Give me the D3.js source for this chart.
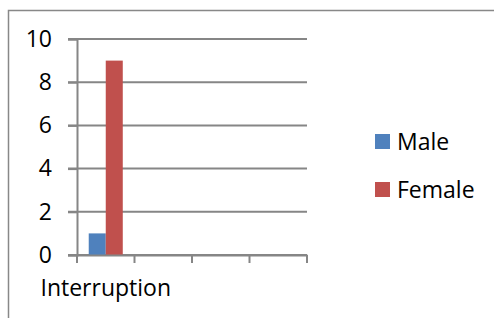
<!DOCTYPE html>
<html>
<head>
<meta charset="utf-8">
<script src="https://cdn.jsdelivr.net/npm/d3@7"></script>
<style>
  body { margin: 0; background: #fff; }
  text { font-family: "Open Sans", Lato, sans-serif; fill: #000; }
</style>
</head>
<body>
<div id="chart"></div>
<script>
// chart data
var categories = ["Interruption", "", "", ""];
var seriesNames = ["Male", "Female"];
var maleValues = [1, null, null, null];
var femaleValues = [9, null, null, null];
var yTicks = [0, 2, 4, 6, 8, 10];
var colors = ["#4F81BD", "#C0504D"];

var svgWidth = 494, svgHeight = 318;
var margin = {top: 39, right: 187, bottom: 63, left: 77};
var width = svgWidth - margin.left - margin.right;
var height = svgHeight - margin.top - margin.bottom;
var fontSize = "23px";

var svg = d3.select("#chart").append("svg")
    .attr("width", svgWidth)
    .attr("height", svgHeight);

// outer chart frame (top and left edges show)
svg.append("rect")
    .attr("x", 8.5).attr("y", 10.5)
    .attr("width", 600).attr("height", 400)
    .attr("fill", "none")
    .attr("stroke", "#888")
    .attr("stroke-width", 1.5);

var chartGroup = svg.append("g")
    .attr("transform", `translate(${margin.left}, ${margin.top})`);

var xScale = d3.scaleBand().domain(d3.range(categories.length)).range([0, width]);
var yScale = d3.scaleLinear().domain([0, 10]).range([height, 0]);

var barW = xScale.bandwidth() * 0.296;
var xInner = d3.scaleBand().domain(seriesNames).range([0, barW * 2]);

// gridlines
chartGroup.append("g").selectAll("line")
  .data(yTicks)
  .enter()
  .append("line")
  .attr("x1", -9).attr("x2", width)
  .attr("y1", d => yScale(d)).attr("y2", d => yScale(d))
  .attr("stroke", "#868686")
  .attr("stroke-width", 2);

// y axis
var leftAxis = d3.axisLeft(yScale).tickValues(yTicks).tickSize(9).tickPadding(16);
var yAxis = chartGroup.append("g").call(leftAxis);
yAxis.select(".domain").attr("stroke", "#868686").attr("stroke-width", 2);
yAxis.selectAll(".tick line").attr("stroke", "#868686").attr("stroke-width", 2);
yAxis.selectAll("text").style("font-size", fontSize).attr("fill", "#000");

// bars
var series = [maleValues, femaleValues];
series.forEach(function(vals, si) {
  chartGroup.append("g").selectAll("rect")
    .data(vals.map((v, i) => ({i: i, v: v})).filter(d => d.v != null))
    .enter()
    .append("rect")
    .attr("x", d => xScale(d.i) + (xScale.bandwidth() - barW * 2) / 2 + xInner(seriesNames[si]))
    .attr("width", xInner.bandwidth())
    .attr("y", d => yScale(d.v))
    .attr("height", d => height - yScale(d.v))
    .attr("fill", colors[si]);
});

// x axis
var bottomAxis = d3.axisBottom(xScale).tickSize(0).tickPadding(25)
    .tickFormat(i => categories[i]);
var xAxis = chartGroup.append("g")
    .attr("transform", `translate(0, ${height})`)
    .call(bottomAxis);
xAxis.select(".domain").attr("stroke", "#868686").attr("stroke-width", 2);
xAxis.selectAll("text").style("font-size", fontSize).attr("fill", "#000");

// category boundary ticks
var bounds = categories.map((c, i) => xScale(i)).concat([width]);
xAxis.append("g").selectAll("line")
  .data(bounds)
  .enter()
  .append("line")
  .attr("x1", d => d).attr("x2", d => d)
  .attr("y1", 0).attr("y2", 8)
  .attr("stroke", "#868686")
  .attr("stroke-width", 2);

// legend
var legend = svg.append("g").attr("transform", "translate(375, 134)");
seriesNames.forEach(function(name, i) {
  var row = legend.append("g").attr("transform", `translate(0, ${i * 48})`);
  row.append("rect").attr("width", 15).attr("height", 15).attr("fill", colors[i]);
  row.append("text").attr("x", 22).attr("y", 16).style("font-size", fontSize).text(name);
});
</script>
</body>
</html>
